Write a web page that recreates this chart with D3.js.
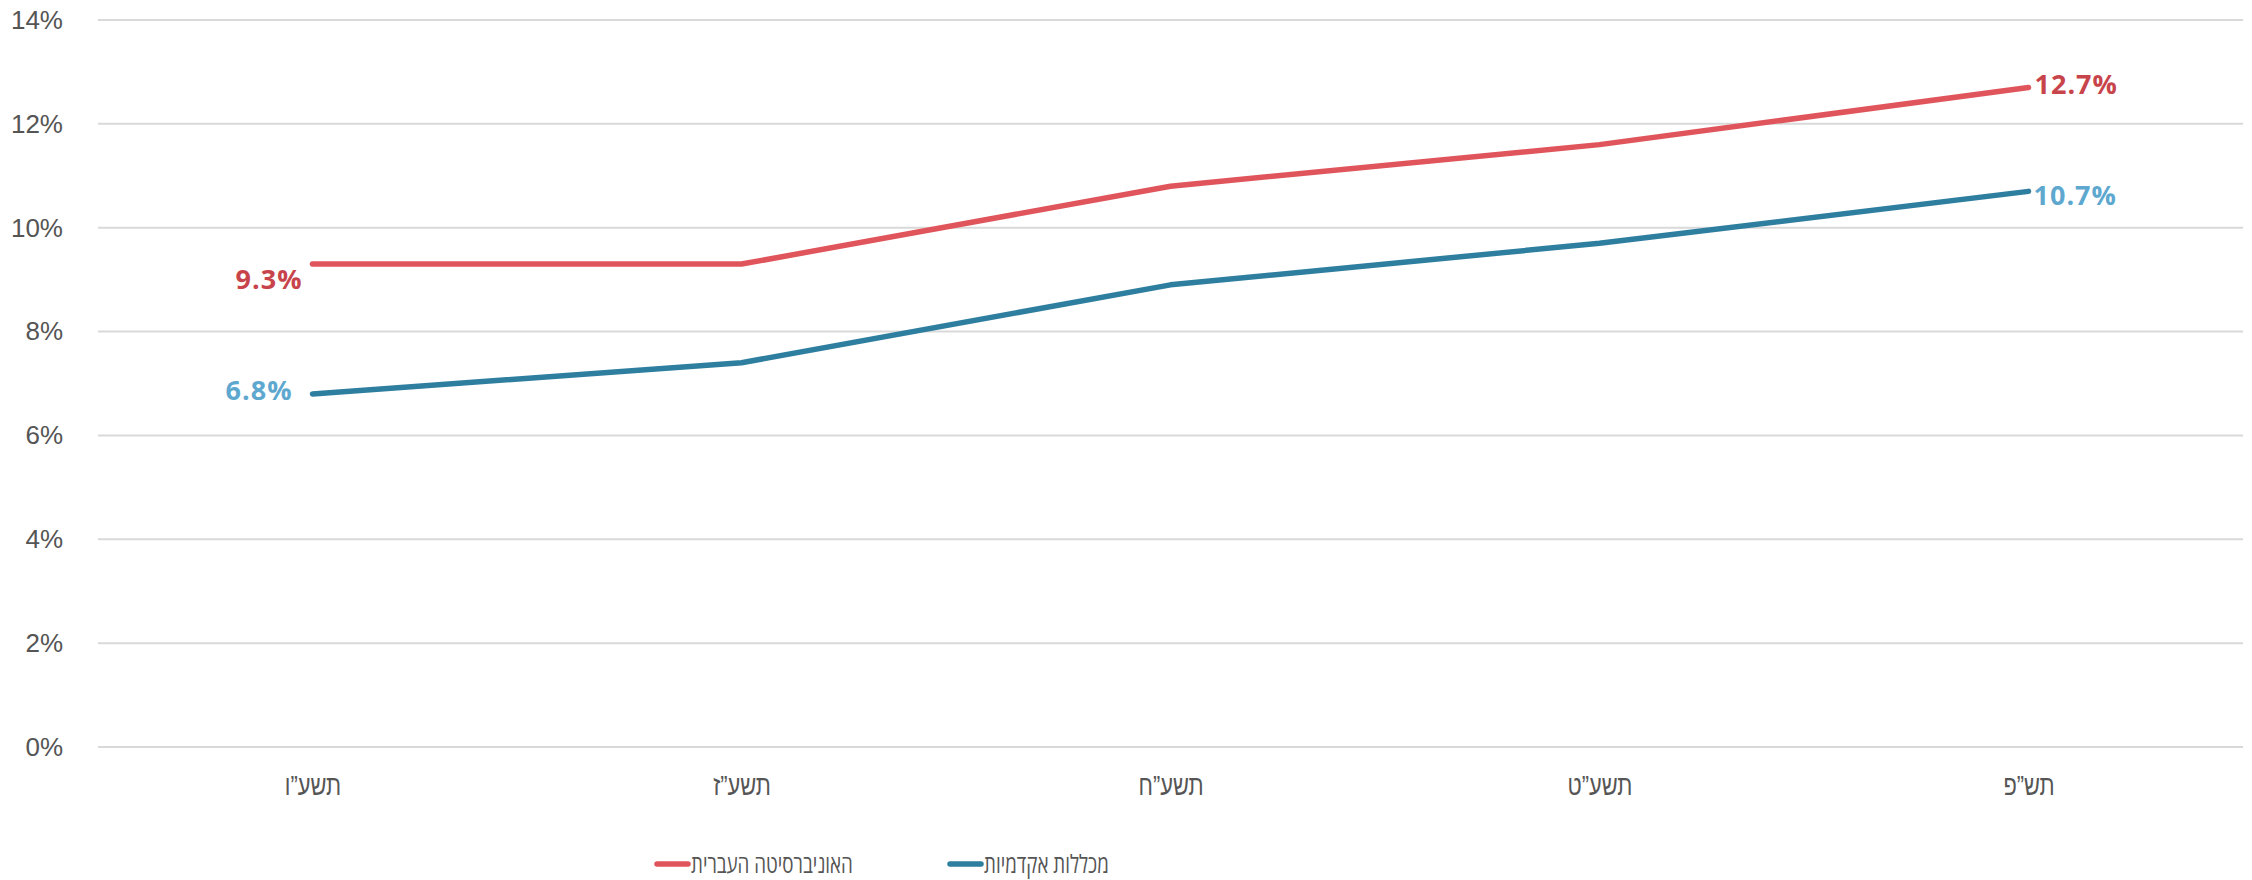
<!DOCTYPE html>
<html lang="he">
<head>
<meta charset="utf-8">
<script src="https://cdn.jsdelivr.net/npm/d3@7"></script>
<style>
  html, body { margin: 0; padding: 0; background: #fff; }
  svg { display: block; font-family: "Open Sans", "Liberation Sans", sans-serif; }
  .grid line { stroke: #d9d9d9; stroke-width: 2; }
  .axis text { fill: #555; }
</style>
</head>
<body>
<svg width="2252" height="880"></svg>
<script>
'use strict';

// years (Hebrew calendar)
const years = ["תשע”ו", "תשע”ז", "תשע”ח", "תשע”ט", "תש”פ"];
// percent values
const huji = [9.3, 9.3, 10.8, 11.6, 12.7];
const colleges = [6.8, 7.4, 8.9, 9.7, 10.7];
const seriesNames = ["האוניברסיטה העברית", "מכללות אקדמיות"];
const yTicks = [0, 2, 4, 6, 8, 10, 12, 14];

const svg = d3.select("svg");
const margin = {top: 20, left: 98, right: 9};
const width = 2252 - margin.left - margin.right;
const height = 727;

// the hebrew face in the original is narrow, squeeze ours a bit
function condense(sel, k) {
  sel.each(function() {
    const w = this.getComputedTextLength();
    d3.select(this)
      .attr("textLength", w * k)
      .attr("lengthAdjust", "spacingAndGlyphs");
  });
}

const g = svg.append("g")
    .attr("transform", "translate(" + margin.left + "," + margin.top + ")");

const x = d3.scalePoint().domain(years).range([0, width]).padding(0.5);
const y = d3.scaleLinear().domain([0, 14]).range([height, 0]);

// gridlines
g.append("g")
    .attr("class", "grid")
    .selectAll("line")
    .data(yTicks)
    .join("line")
    .attr("x1", 0)
    .attr("x2", width)
    .attr("y1", d => y(d))
    .attr("y2", d => y(d));

// y axis labels
const yAxis = d3.axisLeft(y).tickValues(yTicks).tickSize(0).tickPadding(35)
    .tickFormat(d => d + "%");
g.append("g")
    .attr("class", "axis axis--y")
    .call(yAxis)
    .call(s => s.select(".domain").remove())
    .selectAll("text")
    .style("font-size", "26px");

// x axis labels
const xAxis = d3.axisBottom(x).tickSize(0).tickPadding(28);
g.append("g")
    .attr("class", "axis axis--x")
    .attr("transform", "translate(0," + height + ")")
    .call(xAxis)
    .call(s => s.select(".domain").remove())
    .selectAll("text")
    .style("font-size", "28px")
    .call(condense, 0.78);

const line = d3.line()
    .x((d, i) => x(years[i]))
    .y(d => y(d));

const series = [
  {name: seriesNames[0], values: huji, stroke: "#e0555b", label: "#c8444b"},
  {name: seriesNames[1], values: colleges, stroke: "#2e7e9f", label: "#5ea8d0"}
];

series.forEach(s => {
  g.append("path")
      .datum(s.values)
      .attr("fill", "none")
      .attr("stroke", s.stroke)
      .attr("stroke-width", 5.5)
      .attr("stroke-linecap", "round")
      .attr("stroke-linejoin", "round")
      .attr("d", line);
});

// end labels
const last = years.length - 1;
function addLabel(val, i, color, anchor, dx, dy) {
  g.append("text")
      .attr("x", x(years[i]) + dx)
      .attr("y", y(val) + dy)
      .attr("text-anchor", anchor)
      .attr("fill", color)
      .style("font-size", "27px")
      .style("font-weight", "bold")
      .style("letter-spacing", "1px")
      .text(val.toFixed(1) + "%");
}
addLabel(huji[0], 0, series[0].label, "end", -10, 25);
addLabel(colleges[0], 0, series[1].label, "end", -20, 6);
addLabel(huji[last], last, series[0].label, "start", 6, 6);
addLabel(colleges[last], last, series[1].label, "start", 5, 14);

// legend
const legend = svg.append("g").attr("transform", "translate(0,864)");
const legendItems = [
  {name: seriesNames[0], color: series[0].stroke, x: 657},
  {name: seriesNames[1], color: series[1].stroke, x: 950}
];
legendItems.forEach(it => {
  legend.append("line")
      .attr("x1", it.x)
      .attr("x2", it.x + 31)
      .attr("y1", 0)
      .attr("y2", 0)
      .attr("stroke", it.color)
      .attr("stroke-width", 5.5)
      .attr("stroke-linecap", "round");
  legend.append("text")
      .attr("x", it.x + 34)
      .attr("y", 9)
      .attr("fill", "#555")
      .attr("text-anchor", "start")
      .style("font-size", "25px")
      .text(it.name)
      .call(condense, 0.75);
});
</script>
</body>
</html>
